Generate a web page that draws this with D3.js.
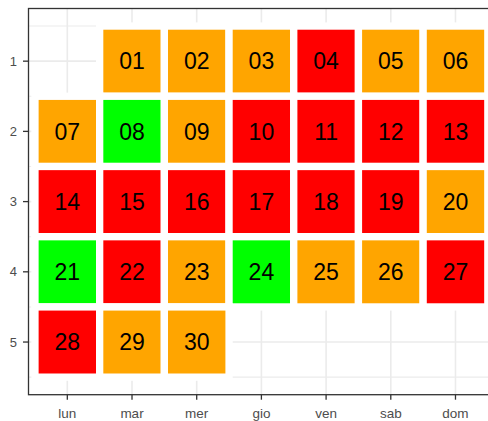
<!DOCTYPE html>
<html>
<head>
<meta charset="utf-8">
<script src="https://cdn.jsdelivr.net/npm/d3@7"></script>
<style>
  html, body { margin: 0; padding: 0; background: #fff; }
  svg { display: block; }
</style>
</head>
<body>
<svg id="chart" width="488" height="421"></svg>
<script>
// ---- data ----
const weekdays = ["lun", "mar", "mer", "gio", "ven", "sab", "dom"];
const weekTicks = [1, 2, 3, 4, 5];
const dayLabels = ["01","02","03","04","05","06","07","08","09","10",
                   "11","12","13","14","15","16","17","18","19","20",
                   "21","22","23","24","25","26","27","28","29","30"];
const dayWeekday = ["mar","mer","gio","ven","sab","dom",
                    "lun","mar","mer","gio","ven","sab","dom",
                    "lun","mar","mer","gio","ven","sab","dom",
                    "lun","mar","mer","gio","ven","sab","dom",
                    "lun","mar","mer"];
const dayWeek = [1,1,1,1,1,1,
                 2,2,2,2,2,2,2,
                 3,3,3,3,3,3,3,
                 4,4,4,4,4,4,4,
                 5,5,5];
const dayLevel = ["o","o","o","r","o","o",
                  "o","g","o","r","r","r","r",
                  "r","r","r","r","r","r","o",
                  "g","r","o","g","o","o","r",
                  "r","o","o"];
const levelColors = { o: "#FFA500", r: "#FF0000", g: "#00FF00" };

const days = dayLabels.map((lab, i) => ({
  label: lab, wd: dayWeekday[i], wk: dayWeek[i], lvl: dayLevel[i]
}));

// ---- layout ----
const panel = { left: 28.5, right: 494.3, top: 8.5, bottom: 394.7 };
const svg = d3.select("#chart");

const x = d3.scalePoint().domain(weekdays).range([panel.left, panel.right]).padding(0.6);
const y = d3.scaleLinear().domain([0.25, 5.75]).range([panel.top, panel.bottom]);
const stepX = x.step();
const color = d3.scaleOrdinal().domain(Object.keys(levelColors)).range(Object.values(levelColors));

// panel background
svg.append("rect")
  .attr("x", panel.left).attr("y", panel.top)
  .attr("width", panel.right - panel.left).attr("height", panel.bottom - panel.top)
  .attr("fill", "#fff");

const grid = svg.append("g");
// minor horizontal grid
const minor = [0.5, 1.5, 2.5, 3.5, 4.5, 5.5];
grid.selectAll(".minor").data(minor).enter().append("line")
  .attr("x1", panel.left).attr("x2", panel.right)
  .attr("y1", d => y(d)).attr("y2", d => y(d))
  .attr("stroke", "#EBEBEB").attr("stroke-width", 1.1);
// major horizontal grid
grid.selectAll(".majY").data(weekTicks).enter().append("line")
  .attr("x1", panel.left).attr("x2", panel.right)
  .attr("y1", d => y(d)).attr("y2", d => y(d))
  .attr("stroke", "#EBEBEB").attr("stroke-width", 1.6);
// major vertical grid
grid.selectAll(".majX").data(weekdays).enter().append("line")
  .attr("y1", panel.top).attr("y2", panel.bottom)
  .attr("x1", d => x(d)).attr("x2", d => x(d))
  .attr("stroke", "#EBEBEB").attr("stroke-width", 1.6);

// tiles
const tiles = svg.append("g");
tiles.selectAll("rect").data(days).enter().append("rect")
  .attr("x", d => x(d.wd) - stepX / 2)
  .attr("width", stepX)
  .attr("y", d => y(d.wk - 0.5))
  .attr("height", d => y(d.wk + 0.5) - y(d.wk - 0.5))
  .attr("fill", d => color(d.lvl))
  .attr("stroke", "#fff")
  .attr("stroke-width", 7.3);

tiles.selectAll("text").data(days).enter().append("text")
  .attr("x", d => x(d.wd))
  .attr("y", d => y(d.wk))
  .attr("dy", "0.36em")
  .attr("text-anchor", "middle")
  .attr("font-family", "'Liberation Sans', Arial, sans-serif")
  .attr("font-size", 23)
  .attr("fill", "#000")
  .text(d => d.label);

// panel border
svg.append("rect")
  .attr("x", panel.left).attr("y", panel.top)
  .attr("width", panel.right - panel.left).attr("height", panel.bottom - panel.top)
  .attr("fill", "none").attr("stroke", "#333333").attr("stroke-width", 1.3);

// axes
const xAxis = svg.append("g");
xAxis.selectAll("line").data(weekdays).enter().append("line")
  .attr("x1", d => x(d)).attr("x2", d => x(d))
  .attr("y1", panel.bottom).attr("y2", panel.bottom + 5)
  .attr("stroke", "#333333").attr("stroke-width", 1.3);
xAxis.selectAll("text").data(weekdays).enter().append("text")
  .attr("x", d => x(d)).attr("y", 417.5)
  .attr("text-anchor", "middle")
  .attr("font-family", "'Liberation Sans', Arial, sans-serif")
  .attr("font-size", 13.5)
  .attr("fill", "#4D4D4D")
  .text(d => d);

const yAxis = svg.append("g");
yAxis.selectAll("line").data(weekTicks).enter().append("line")
  .attr("x1", panel.left - 5.5).attr("x2", panel.left)
  .attr("y1", d => y(d)).attr("y2", d => y(d))
  .attr("stroke", "#333333").attr("stroke-width", 1.3);
yAxis.selectAll("text").data(weekTicks).enter().append("text")
  .attr("x", 17).attr("y", d => y(d))
  .attr("dy", "0.36em")
  .attr("text-anchor", "end")
  .attr("font-family", "'Liberation Sans', Arial, sans-serif")
  .attr("font-size", 13)
  .attr("fill", "#4D4D4D")
  .text(d => d);
</script>
</body>
</html>
